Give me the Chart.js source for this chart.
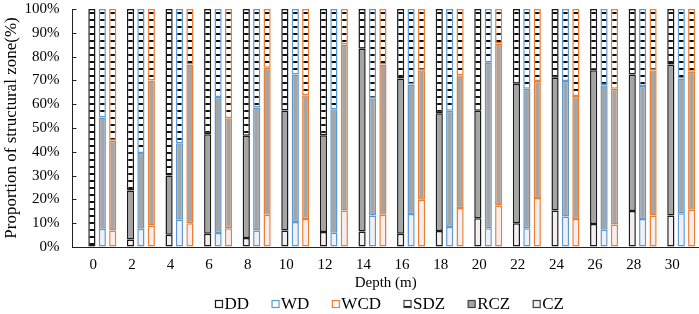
<!DOCTYPE html>
<html lang="en">
<head>
<meta charset="UTF-8">
<title>Proportion of structural zone</title>
<script src="https://cdn.jsdelivr.net/npm/chart.js"></script>
<style>
  html, body { margin: 0; padding: 0; background: #fff; }
  #wrap { width: 699px; height: 314px; }
</style>
</head>
<body>
<div id="wrap"><canvas id="zoneChart"></canvas></div>
<script>
// depth of each bar group (m)
const depths = [0, 2, 4, 6, 8, 10, 12, 14, 16, 18, 20, 22, 24, 26, 28, 30];
const types = ['DD', 'WD', 'WCD'];
const zones = ['SDZ', 'RCZ', 'CZ'];
const yTicks = [0, 10, 20, 30, 40, 50, 60, 70, 80, 90, 100];

// share of each zone (%), one value per depth
const ddCZ   = [0, 3.2, 5.1, 5.6, 3.8, 6.9, 6.3, 6.5, 5.6, 6.7, 12.1, 10.0, 15.3, 9.7, 15.1, 13.2];
const ddRCZ  = [0, 20.5, 24.9, 41.8, 42.9, 50.5, 40.7, 76.8, 65.2, 49.5, 45.1, 58.6, 55.8, 64.6, 57.4, 63.5];
const ddSDZ  = [100, 76.3, 70.0, 52.6, 53.3, 42.6, 53.0, 16.7, 29.2, 43.8, 42.8, 31.4, 28.9, 25.7, 27.5, 23.3];

const wdCZ   = [7.7, 7.7, 11.4, 5.9, 6.9, 10.5, 6.0, 13.2, 13.9, 8.4, 7.9, 7.9, 12.8, 7.2, 11.8, 14.2];
const wdRCZ  = [46.7, 31.8, 32.2, 57.1, 51.7, 62.0, 51.9, 49.3, 54.4, 48.8, 69.5, 58.6, 56.9, 60.8, 55.8, 56.6];
const wdSDZ  = [45.6, 60.5, 56.4, 37.0, 41.4, 27.5, 42.1, 37.5, 31.7, 42.8, 22.6, 33.5, 30.3, 32.0, 32.4, 29.2];

const wcdCZ  = [6.9, 9.0, 10.0, 7.9, 13.5, 11.8, 15.3, 13.6, 19.9, 16.4, 17.4, 20.6, 11.8, 9.5, 13.2, 15.7];
const wcdRCZ = [37.7, 61.0, 66.7, 46.2, 61.8, 52.0, 69.8, 63.1, 54.4, 55.8, 68.1, 49.1, 51.6, 57.0, 61.1, 57.9];
const wcdSDZ = [55.4, 30.0, 23.3, 45.9, 24.7, 36.2, 14.9, 23.3, 25.7, 27.8, 14.5, 30.3, 36.6, 33.5, 25.7, 26.4];

const typeColors = ['#1a1a1a', '#5b9bd5', '#ed7d31'];
const font = "'Liberation Serif', 'Times New Roman', serif";

// horizontal ladder stripes used for SDZ
function stripePattern() {
    const c = document.createElement('canvas');
    c.width = 4; c.height = 7;
    const g = c.getContext('2d');
    g.fillStyle = '#ffffff';
    g.fillRect(0, 0, 4, 7);
    g.fillStyle = '#111111';
    g.fillRect(0, 5, 4, 2);
    return g.createPattern(c, 'repeat');
}
const sdzFill = stripePattern();
const zoneFills = { SDZ: sdzFill, RCZ: '#a5a5a5', CZ: '#f3eef1' };

const series = {
    DD:  { CZ: ddCZ,  RCZ: ddRCZ,  SDZ: ddSDZ },
    WD:  { CZ: wdCZ,  RCZ: wdRCZ,  SDZ: wdSDZ },
    WCD: { CZ: wcdCZ, RCZ: wcdRCZ, SDZ: wcdSDZ }
};

// bottom to top: CZ, RCZ, SDZ; one stack per type
const datasets = [];
types.forEach((t, ti) => {
    ['CZ', 'RCZ', 'SDZ'].forEach(z => {
        datasets.push({
            label: t + ' ' + z,
            stack: t,
            data: depths.map((d, i) => ({ x: d, y: series[t][z][i] })),
            backgroundColor: zoneFills[z],
            borderColor: typeColors[ti],
            borderWidth: 1.5,
            borderSkipped: false,
            categoryPercentage: 0.81,
            barPercentage: 0.69
        });
    });
});

// small inward tick marks on the y axis
const yTickMarks = {
    id: 'yTickMarks',
    afterDraw(chart) {
        const { ctx, chartArea, scales } = chart;
        ctx.save();
        ctx.strokeStyle = '#222';
        ctx.lineWidth = 1;
        scales.y.ticks.forEach(t => {
            const py = Math.round(scales.y.getPixelForValue(t.value)) + 0.5;
            ctx.beginPath();
            ctx.moveTo(chartArea.left, py);
            ctx.lineTo(chartArea.left + 4, py);
            ctx.stroke();
        });
        ctx.restore();
    }
};

// legend row under the axis title
const zoneLegend = {
    id: 'zoneLegend',
    afterDraw(chart) {
        const { ctx, chartArea } = chart;
        const items = types.map((t, i) => ({ text: t, fill: '#ffffff', stroke: typeColors[i] }))
            .concat(zones.map(z => ({ text: z, fill: zoneFills[z], stroke: '#404040' })));
        ctx.save();
        ctx.font = '17px ' + font;
        const box = 7, gap = 2, space = 23;
        const widths = items.map(it => box + gap + ctx.measureText(it.text).width);
        const total = widths.reduce((a, b) => a + b, 0) + space * (items.length - 1);
        let x = (chartArea.left + chartArea.right) / 2 + 4 - total / 2;
        const y = chart.height - 10;
        items.forEach((it, i) => {
            ctx.fillStyle = it.fill;
            ctx.fillRect(x, y - box / 2, box, box);
            ctx.strokeStyle = it.stroke;
            ctx.lineWidth = 1.2;
            ctx.strokeRect(x, y - box / 2, box, box);
            ctx.fillStyle = '#000';
            ctx.textBaseline = 'middle';
            ctx.fillText(it.text, x + box + gap, y + 1);
            x += widths[i] + space;
        });
        ctx.restore();
    }
};

// invisible tick marks give the label spacing without extra padding at the ends
const hiddenTicks = { display: true, drawOnChartArea: false, drawTicks: true, tickColor: 'rgba(0,0,0,0)' };

new Chart(document.getElementById('zoneChart'), {
    type: 'bar',
    data: { datasets: datasets },
    options: {
        responsive: true,
        maintainAspectRatio: false,
        animation: false,
        layout: { padding: { top: 0, right: 0, bottom: 22, left: 0 } },
        plugins: {
            legend: { display: false },
            tooltip: { enabled: false }
        },
        scales: {
            x: {
                type: 'linear',
                stacked: true,
                offset: false,
                min: -1.55,
                max: 30.92,
                afterBuildTicks: axis => { axis.ticks = depths.map(v => ({ value: v })); },
                grid: Object.assign({ tickLength: 9 }, hiddenTicks),
                border: { display: true, color: '#222', width: 1 },
                ticks: {
                    autoSkip: false,
                    maxRotation: 0,
                    padding: 0,
                    labelOffset: -9,
                    color: '#000',
                    font: { family: font, size: 15 },
                    callback: v => String(v)
                },
                title: {
                    display: true,
                    text: 'Depth (m)',
                    color: '#000',
                    font: { family: font, size: 15 },
                    padding: { top: 0, bottom: 0 }
                }
            },
            y: {
                stacked: true,
                min: 0,
                max: 100,
                afterBuildTicks: axis => { axis.ticks = yTicks.map(v => ({ value: v })); },
                grid: Object.assign({ tickLength: 13 }, hiddenTicks),
                border: { display: true, color: '#222', width: 1 },
                ticks: {
                    padding: 0,
                    color: '#000',
                    font: { family: font, size: 15 },
                    callback: v => v + '%'
                },
                title: {
                    display: true,
                    text: 'Proportion of structural zone(%)',
                    color: '#000',
                    font: { family: font, size: 17 },
                    padding: { top: 1, bottom: 3 }
                }
            }
        }
    },
    plugins: [yTickMarks, zoneLegend]
});
</script>
</body>
</html>
